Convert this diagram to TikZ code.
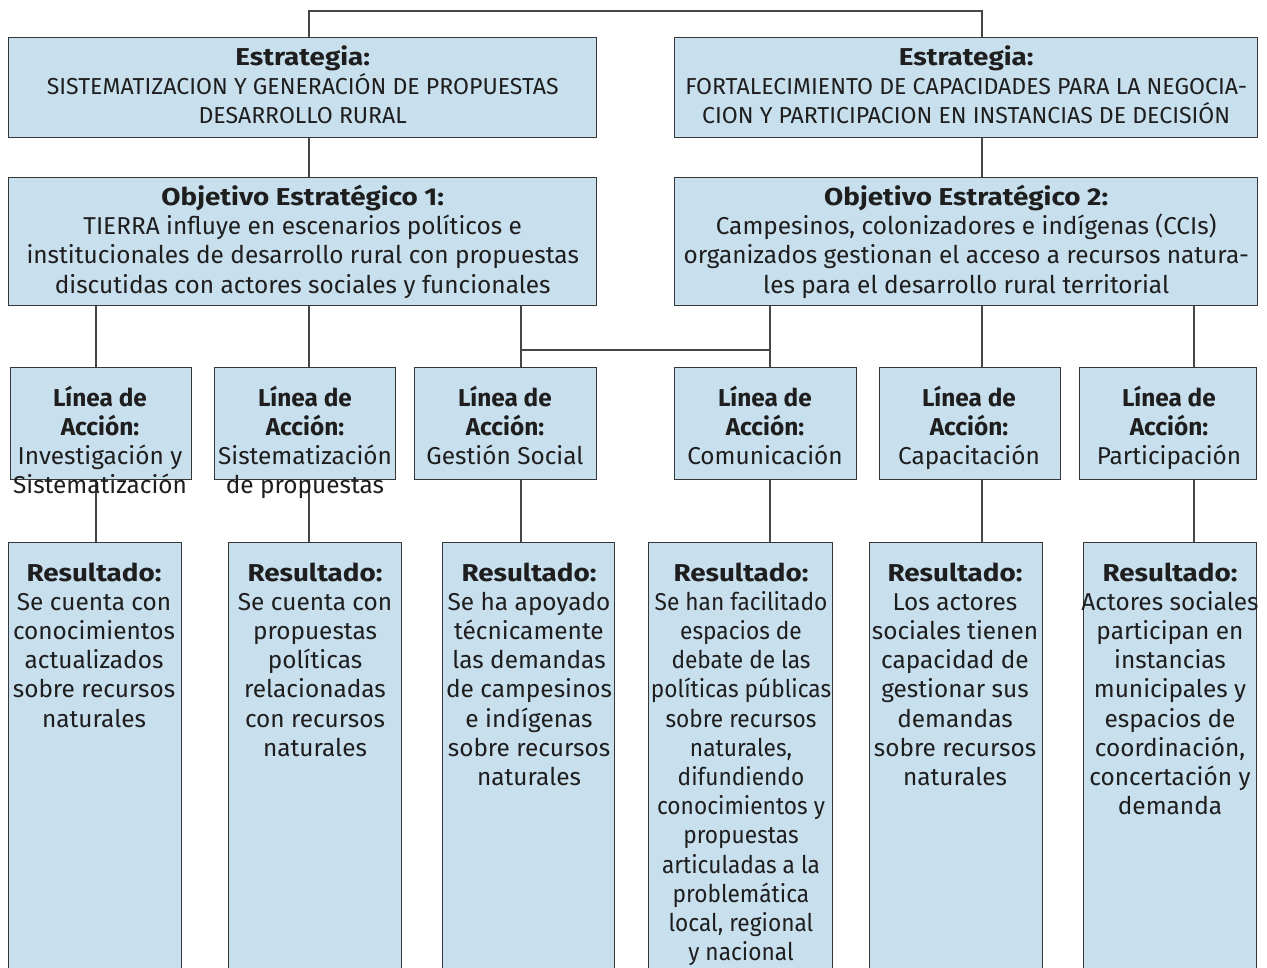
\documentclass[tikz,border=0pt]{standalone}
\usepackage{fontspec}
\setmainfont{Fira Sans}
\newfontfamily\condfont[FakeStretch=0.93]{Fira Sans}
\newfontfamily\wideboldfont[FakeStretch=1.14,UprightFont=*-Bold]{Fira Sans}
\definecolor{boxfill}{RGB}{200,223,237}
\definecolor{boxline}{RGB}{55,55,55}
\definecolor{connc}{RGB}{70,70,70}
\definecolor{textc}{RGB}{30,30,30}
\newcommand{\hd}[1]{{\wideboldfont #1}}
\newcommand{\capsline}[1]{{\fontsize{23.1}{29.2}\selectfont #1}}
\begin{document}
\begin{tikzpicture}[x=1pt,y=-1pt,
  box/.style={draw=boxline, fill=boxfill, line width=1.4pt, inner sep=0pt, anchor=north west},
  txt/.style={align=center, inner sep=0pt, text=textc, font=\fontsize{24.4}{29.2}\selectfont},
  ttop/.style={txt, anchor=north},
  conn/.style={draw=connc, line width=1.3pt}]
\useasboundingbox (0,0) rectangle (1267,967);
\clip (0,0) rectangle (1267,967);
% named x positions for connectors
\coordinate (topy) at (0,11);
\coordinate (x96) at (96,0);
\coordinate (x309) at (309,0);
\coordinate (x521) at (521,0);
\coordinate (x770) at (770,0);
\coordinate (x982) at (982,0);
\coordinate (x1194) at (1194,0);
\coordinate (j1) at (521,350);
\coordinate (j2) at (770,350);
% boxes
\node[box, minimum width=588pt, minimum height=100pt] (E1) at (8,37) {};
\node[box, minimum width=583pt, minimum height=100pt] (E2) at (674,37) {};
\node[box, minimum width=588pt, minimum height=128pt] (O1) at (8,177) {};
\node[box, minimum width=583pt, minimum height=128pt] (O2) at (674,177) {};
\node[box, minimum width=181pt, minimum height=112pt] (L1) at (10,367) {};
\node[box, minimum width=181pt, minimum height=112pt] (L2) at (214,367) {};
\node[box, minimum width=182pt, minimum height=112pt] (L3) at (414,367) {};
\node[box, minimum width=182pt, minimum height=112pt] (L4) at (674,367) {};
\node[box, minimum width=181pt, minimum height=112pt] (L5) at (879,367) {};
\node[box, minimum width=177pt, minimum height=112pt] (L6) at (1079,367) {};
\node[box, minimum width=173pt, minimum height=440pt] (R1) at (8,542) {};
\node[box, minimum width=173pt, minimum height=440pt] (R2) at (228,542) {};
\node[box, minimum width=172pt, minimum height=440pt] (R3) at (442,542) {};
\node[box, minimum width=184pt, minimum height=440pt] (R4) at (648,542) {};
\node[box, minimum width=173pt, minimum height=440pt] (R5) at (869,542) {};
\node[box, minimum width=173pt, minimum height=440pt] (R6) at (1083,542) {};
% connectors
\draw[conn] (x309 |- E1.north) -- (x309 |- topy) -- (x982 |- topy) -- (x982 |- E2.north);
\draw[conn] (x309 |- E1.south) -- (x309 |- O1.north);
\draw[conn] (x982 |- E2.south) -- (x982 |- O2.north);
\draw[conn] (x96 |- O1.south) -- (x96 |- L1.north);
\draw[conn] (x309 |- O1.south) -- (x309 |- L2.north);
\draw[conn] (x521 |- O1.south) -- (x521 |- L3.north);
\draw[conn] (x770 |- O2.south) -- (x770 |- L4.north);
\draw[conn] (x982 |- O2.south) -- (x982 |- L5.north);
\draw[conn] (x1194 |- O2.south) -- (x1194 |- L6.north);
\draw[conn] (j1) -- (j2);
\draw[conn] (x96 |- L1.south) -- (x96 |- R1.north);
\draw[conn] (x309 |- L2.south) -- (x309 |- R2.north);
\draw[conn] (x521 |- L3.south) -- (x521 |- R3.north);
\draw[conn] (x770 |- L4.south) -- (x770 |- R4.north);
\draw[conn] (x982 |- L5.south) -- (x982 |- R5.north);
\draw[conn] (x1194 |- L6.south) -- (x1194 |- R6.north);
% texts
\node[txt, yshift=3pt] (E1t) at (E1.center) {\hd{Estrategia:}\\\capsline{SISTEMATIZACION Y GENERACIÓN DE PROPUESTAS}\\\capsline{DESARROLLO RURAL}};
\node[txt, yshift=3pt] (E2t) at (E2.center) {\hd{Estrategia:}\\\capsline{FORTALECIMIENTO DE CAPACIDADES PARA LA NEGOCIA-}\\\capsline{CION Y PARTICIPACION EN INSTANCIAS DE DECISIÓN}};
\node[txt] (O1t) at (O1.center) {\hd{Objetivo Estratégico 1:}\\TIERRA influye en escenarios políticos e\\institucionales de desarrollo rural con propuestas\\discutidas con actores sociales y funcionales};
\node[txt] (O2t) at (O2.center) {\hd{Objetivo Estratégico 2:}\\Campesinos, colonizadores e indígenas (CCIs)\\organizados gestionan el acceso a recursos natura-\\les para el desarrollo rural territorial};
\node[ttop] (L1t) at (100,385.5) {\strut\textbf{Línea de}\\\textbf{Acción:}\\Investigación y\\Sistematización};
\node[ttop] (L2t) at (305,385.5) {\strut\textbf{Línea de}\\\textbf{Acción:}\\Sistematización\\de propuestas};
\node[ttop] (L3t) at (505,385.5) {\strut\textbf{Línea de}\\\textbf{Acción:}\\Gestión Social};
\node[ttop] (L4t) at (765,385.5) {\strut\textbf{Línea de}\\\textbf{Acción:}\\Comunicación};
\node[ttop] (L5t) at (969,385.5) {\strut\textbf{Línea de}\\\textbf{Acción:}\\Capacitación};
\node[ttop] (L6t) at (1169,385.5) {\strut\textbf{Línea de}\\\textbf{Acción:}\\Participación};
\node[ttop] (R1t) at (94,560.5) {\strut\hd{Resultado:}\\Se cuenta con\\conocimientos\\actualizados\\sobre recursos\\naturales};
\node[ttop] (R2t) at (315,560.5) {\strut\hd{Resultado:}\\Se cuenta con\\propuestas\\políticas\\relacionadas\\con recursos\\naturales};
\node[ttop] (R3t) at (529,560.5) {\strut\hd{Resultado:}\\Se ha apoyado\\técnicamente\\las demandas\\de campesinos\\e indígenas\\sobre recursos\\naturales};
\node[ttop] (R4t) at (741,560.5) {\strut\hd{Resultado:}\\{\condfont Se han facilitado}\\{\condfont espacios de}\\{\condfont debate de las}\\{\condfont políticas públicas}\\{\condfont sobre recursos}\\{\condfont naturales,}\\{\condfont difundiendo}\\{\condfont conocimientos y}\\{\condfont propuestas}\\{\condfont articuladas a la}\\{\condfont problemática}\\{\condfont local, regional}\\{\condfont y nacional}};
\node[ttop] (R5t) at (955,560.5) {\strut\hd{Resultado:}\\Los actores\\sociales tienen\\capacidad de\\gestionar sus\\demandas\\sobre recursos\\naturales};
\node[ttop] (R6t) at (1170,560.5) {\strut\hd{Resultado:}\\Actores sociales\\participan en\\instancias\\municipales y\\espacios de\\coordinación,\\concertación y\\demanda};
\end{tikzpicture}
\end{document}
